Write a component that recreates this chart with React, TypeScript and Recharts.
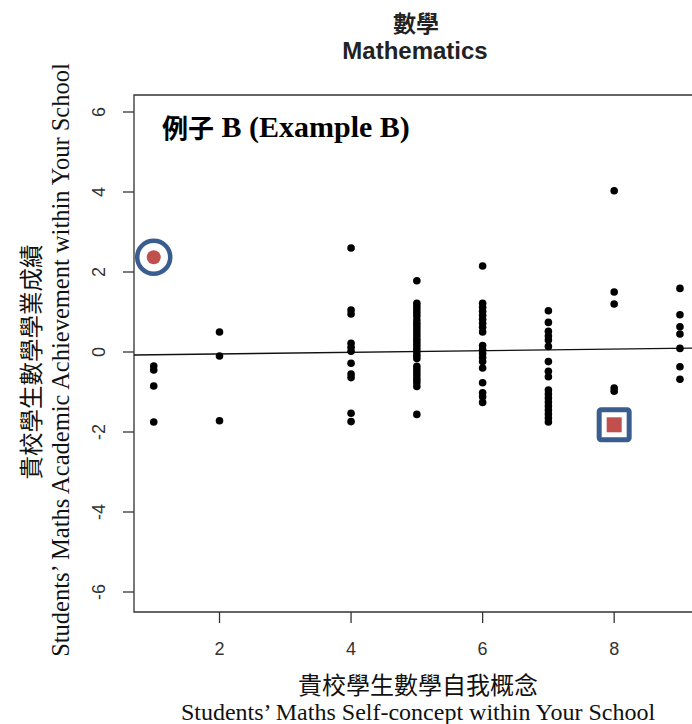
import React from "react";
import {
  ScatterChart,
  Scatter,
  XAxis,
  YAxis,
  ReferenceLine,
  ReferenceArea,
} from "recharts";

// ---- data ----
const xTicks = [2, 4, 6, 8];
const yTicks = [-6, -4, -2, 0, 2, 4, 6];

const achievementAt1 = [-0.35, -0.45, -0.85, -1.75];
const achievementAt2 = [0.5, -0.1, -1.72];
const achievementAt4 = [2.6, 1.05, 0.95, 0.22, 0.12, 0.02, -0.28, -0.55, -0.64, -1.53, -1.74];
const achievementAt5 = [
  1.78, 1.22, 1.14, 1.06, 0.98, 0.9, 0.8, 0.72, 0.64, 0.56, 0.48, 0.4, 0.32, 0.24,
  0.16, 0.08, 0.0, -0.08, -0.16, -0.36, -0.44, -0.52, -0.6, -0.68, -0.76, -0.86, -1.56,
];
const achievementAt6 = [
  2.15, 1.22, 1.12, 1.02, 0.92, 0.82, 0.72, 0.62, 0.5, 0.16, 0.06, -0.04, -0.14,
  -0.24, -0.4, -0.77, -1.02, -1.12, -1.26,
];
const achievementAt7 = [
  1.03, 0.74, 0.52, 0.4, 0.3, 0.14, -0.24, -0.48, -0.62, -0.95, -1.05, -1.15, -1.25,
  -1.35, -1.45, -1.55, -1.65, -1.75,
];
const achievementAt8 = [4.03, 1.5, 1.2, -0.9, -0.98];
const achievementAt9 = [1.59, 0.93, 0.63, 0.45, 0.09, -0.37, -0.68];

const selfConceptGroups: [number, number[]][] = [
  [1, achievementAt1],
  [2, achievementAt2],
  [4, achievementAt4],
  [5, achievementAt5],
  [6, achievementAt6],
  [7, achievementAt7],
  [8, achievementAt8],
  [9, achievementAt9],
];

const exampleCircle = [{ x: 1, y: 2.37 }];
const exampleSquare = [{ x: 8, y: -1.82 }];
const regressionLine = [
  { x: 0.7, y: -0.075 },
  { x: 9.32, y: 0.102 },
];

const xDomain: [number, number] = [0.7, 9.32];
const yDomain: [number, number] = [-6.5, 6.425];

const points = selfConceptGroups.flatMap(([x, ys]) => ys.map((y) => ({ x, y })));

// ---- styles ----
const SANS = "'Liberation Sans', Arial, sans-serif";
const SERIF = "'Liberation Serif', 'Times New Roman', serif";
const CJK = "'Noto Sans CJK TC', 'Noto Sans CJK SC', sans-serif";
const BLUE = "#3a5d8f";
const RED = "#c0504d";

const Dot = (props: any) => {
  const { cx, cy } = props;
  if (cx == null || cy == null) return null;
  return <circle cx={cx} cy={cy} r={3.8} fill="#000" />;
};

const CircleMarker = (props: any) => {
  const { cx, cy } = props;
  if (cx == null || cy == null) return null;
  return (
    <g>
      <circle cx={cx} cy={cy} r={16.5} fill="#fff" stroke={BLUE} strokeWidth={4.5} />
      <circle cx={cx} cy={cy} r={7} fill={RED} />
    </g>
  );
};

const SquareMarker = (props: any) => {
  const { cx, cy } = props;
  if (cx == null || cy == null) return null;
  return (
    <g>
      <rect x={cx - 15} y={cy - 15} width={30} height={30} rx={2} fill="#fff" stroke={BLUE} strokeWidth={5} />
      <rect x={cx - 7.5} y={cy - 7.5} width={15} height={15} fill={RED} />
    </g>
  );
};

const tickStyle = { fontFamily: SANS, fontSize: 18, fill: "#333" };

const renderYTick = (props: any) => {
  const { x, y, payload } = props;
  return (
    <text
      key={`yt-${payload.value}`}
      transform={`translate(${x - 22},${y}) rotate(-90)`}
      textAnchor="middle"
      dominantBaseline="central"
      style={tickStyle}
    >
      {payload.value}
    </text>
  );
};

const renderXTick = (props: any) => {
  const { x, y, payload } = props;
  return (
    <text
      key={`xt-${payload.value}`}
      x={x}
      y={y + 26}
      textAnchor="middle"
      dominantBaseline="central"
      style={tickStyle}
    >
      {payload.value}
    </text>
  );
};

export default function App() {
  const W = 720;
  const H = 724;
  return (
    <div
      style={{
        position: "absolute",
        left: 0,
        top: 0,
        width: 692,
        height: 724,
        overflow: "hidden",
        background: "#fff",
      }}
    >
      <ScatterChart
        width={W}
        height={H}
        margin={{ top: 95, right: 19, bottom: 72, left: 74 }}
      >
        <XAxis
          type="number"
          dataKey="x"
          domain={xDomain}
          ticks={xTicks}
          allowDataOverflow
          axisLine={false}
          tickLine={{ stroke: "#333", strokeWidth: 1.3 }}
          tickSize={11}
          tickMargin={0}
          height={40}
          tick={renderXTick}
        />
        <YAxis
          type="number"
          dataKey="y"
          domain={yDomain}
          ticks={yTicks}
          allowDataOverflow
          axisLine={false}
          tickLine={{ stroke: "#333", strokeWidth: 1.3 }}
          tickSize={11}
          tickMargin={2}
          width={60}
          tick={renderYTick}
        />
        <ReferenceArea
          x1={xDomain[0]}
          x2={xDomain[1]}
          y1={yDomain[0]}
          y2={yDomain[1]}
          ifOverflow="visible"
          fill="none"
          fillOpacity={0}
          stroke="#333"
          strokeWidth={1.3}
        />
        <ReferenceLine
          segment={regressionLine}
          stroke="#111"
          strokeWidth={1.3}
          ifOverflow="visible"
        />
        <Scatter data={points} shape={<Dot />} isAnimationActive={false} />
        <Scatter data={exampleCircle} shape={<CircleMarker />} isAnimationActive={false} />
        <Scatter data={exampleSquare} shape={<SquareMarker />} isAnimationActive={false} />
      </ScatterChart>
      <svg
        width={692}
        height={724}
        style={{ position: "absolute", left: 0, top: 0, pointerEvents: "none" }}
      >
        <text x={416} y={22} textAnchor="middle" dominantBaseline="central" fontFamily={CJK} fontWeight="bold" fontSize={23} fill="#222">
          數學
        </text>
        <text x={415} y={50} textAnchor="middle" dominantBaseline="central" fontFamily={SANS} fontWeight="bold" fontSize={24} fill="#222">
          Mathematics
        </text>
        <text x={162} y={126} textAnchor="start" dominantBaseline="central" fontFamily={SERIF} fontWeight="bold" fontSize={30} fill="#000">
          <tspan fontFamily={CJK} fontSize={26}>例子</tspan> B (Example B)
        </text>
        <text x={418} y={683} textAnchor="middle" dominantBaseline="central" fontFamily={CJK} fontSize={24} fill="#111">
          貴校學生數學自我概念
        </text>
        <text x={418} y={712} textAnchor="middle" dominantBaseline="central" fontFamily={SERIF} fontSize={24} fill="#111">
          Students’ Maths Self-concept within Your School
        </text>
        <text transform="translate(30,362) rotate(-90)" textAnchor="middle" dominantBaseline="central" fontFamily={CJK} fontSize={23.5} fill="#111">
          貴校學生數學學業成績
        </text>
        <text transform="translate(60,360) rotate(-90)" textAnchor="middle" dominantBaseline="central" fontFamily={SERIF} fontSize={24.5} fill="#111">
          Students’ Maths Academic Achievement within Your School
        </text>
      </svg>
    </div>
  );
}
